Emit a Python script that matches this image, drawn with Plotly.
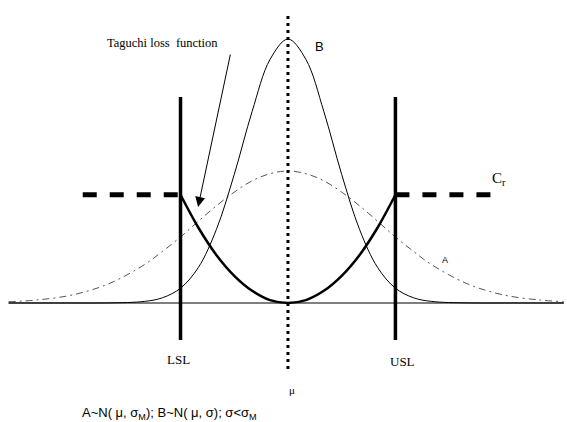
import plotly.graph_objects as go

# x in sigma-like units (mu = 0, LSL = -3, USL = 3); y in relative height units
x_curve = [-7.8, -7, -6, -5, -4, -3.5, -3, -2.5, -2, -1.5, -1, -0.5, 0,
           0.5, 1, 1.5, 2, 2.5, 3, 3.5, 4, 5, 6, 7, 7.7]
b_values = [0, 0, 0, 0.03, 0.6, 2.0, 5.6, 13.5, 27.8, 48.7, 72.6, 92.3, 100,
            92.3, 72.6, 48.7, 27.8, 13.5, 5.6, 2.0, 0.6, 0.03, 0, 0, 0]
a_values = [0.46, 1.15, 3.1, 7.3, 14.6, 19.6, 25.0, 31.0, 36.8, 42.0, 46.3, 49.0, 50,
            49.0, 46.3, 42.0, 36.8, 31.0, 25.0, 19.6, 14.6, 7.3, 3.1, 1.15, 0.5]

x_loss = [-3, -2.5, -2, -1.5, -1, -0.5, 0, 0.5, 1, 1.5, 2, 2.5, 3]
loss_values = [41, 28.5, 18.2, 10.3, 4.6, 1.1, 0, 1.1, 4.6, 10.3, 18.2, 28.5, 41]

cr_level = 41
lsl, mu, usl = -3, 0, 3
cr_left = [-5.73, -3]
cr_right = [3, 5.73]
baseline_x = [-7.8, 7.7]
spec_y = [-14, 78]
mu_y = [-25, 110]

serif = "Liberation Serif"
sans = "Liberation Sans"

fig = go.Figure()

# base line
fig.add_trace(go.Scatter(x=baseline_x, y=[0, 0], mode="lines",
                         line=dict(color="#555555", width=1.5)))
# curve A (wide)
fig.add_trace(go.Scatter(x=x_curve, y=a_values, mode="lines", line_shape="spline",
                         line=dict(color="#555555", width=1, dash="7px,4px,2px,4px")))
# curve B (narrow)
fig.add_trace(go.Scatter(x=x_curve, y=b_values, mode="lines", line_shape="spline",
                         line=dict(color="black", width=1)))
# Taguchi loss
fig.add_trace(go.Scatter(x=x_loss, y=loss_values, mode="lines", line_shape="spline",
                         line=dict(color="black", width=2.5)))
# C_r limits
for xs in (cr_left, cr_right):
    fig.add_trace(go.Scatter(x=xs, y=[cr_level, cr_level], mode="lines",
                             line=dict(color="black", width=5, dash="14px,13px")))
# spec limits
for xv in (lsl, usl):
    fig.add_trace(go.Scatter(x=[xv, xv], y=spec_y, mode="lines",
                             line=dict(color="black", width=3.5)))
# mean
fig.add_trace(go.Scatter(x=[mu, mu], y=mu_y, mode="lines",
                         line=dict(color="black", width=3, dash="3px,4px")))

ann = [
    dict(x=-3.5, y=98.5, text="Taguchi loss  function", font=dict(family=serif, size=12.5)),
    dict(x=0.87, y=97, text="B", font=dict(family=sans, size=13)),
    dict(x=5.9, y=47, text="C<sub>r</sub>", font=dict(family=serif, size=15)),
    dict(x=4.39, y=16.3, text="A", font=dict(family=sans, size=9)),
    dict(x=-3.07, y=-21.6, text="LSL", font=dict(family=serif, size=13)),
    dict(x=3.2, y=-22, text="USL", font=dict(family=serif, size=13)),
    dict(x=0.1, y=-33, text="μ", font=dict(family=serif, size=11)),
    dict(x=-3.3, y=-41.7, text="A~N( μ, σ<sub>M</sub>); B~N( μ, σ); σ&lt;σ<sub>M</sub>",
         font=dict(family=sans, size=13)),
]
for a in ann:
    fig.add_annotation(xref="x", yref="y", showarrow=False, font_color="black", **a)

# arrow from label to loss curve
fig.add_annotation(x=-2.51, y=36.4, ax=-1.6, ay=94.7, xref="x", yref="y",
                   axref="x", ayref="y", text="", showarrow=True,
                   arrowhead=2, arrowsize=2, arrowwidth=1, arrowcolor="black")

fig.update_layout(width=567, height=422, margin=dict(l=0, r=0, t=0, b=0),
                  paper_bgcolor="white", plot_bgcolor="white", showlegend=False,
                  xaxis=dict(range=[-8.04, 7.79], visible=False),
                  yaxis=dict(range=[-45.1, 114.8], visible=False))

# drop the browser's default body margin so the chart sits at the page corner
fig.write_html("out.html", config={"displayModeBar": False},
               post_script="document.body.style.margin='0';")
